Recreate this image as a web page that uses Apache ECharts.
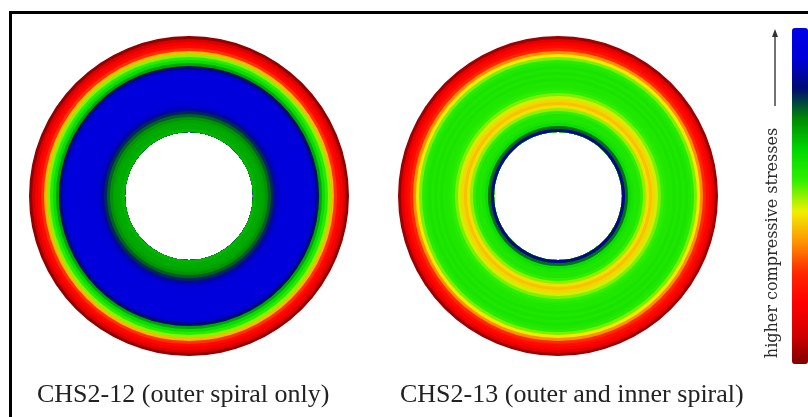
<!DOCTYPE html>
<html><head><meta charset="utf-8">
<script src="https://cdn.jsdelivr.net/npm/echarts@6/dist/echarts.min.js"></script>
<style>html,body{margin:0;padding:0;background:#fff}#c{width:808px;height:417px}</style>
</head><body><div id="c"></div>
<script>
// Specimen captions
const specimens = ['CHS2-12 (outer spiral only)', 'CHS2-13 (outer and inner spiral)'];
// Outer edge of each contour ring, in % of the section's outer radius (outermost first)
const ringRadius = [100, 98.1, 96.3, 94.4, 92.5, 90.6, 88.8, 86.9, 85.0, 83.1, 81.3, 79.4, 77.5, 75.6, 73.8, 71.9,
                    70.0, 68.1, 66.3, 64.4, 62.5, 60.6, 58.8, 56.9, 55.0, 53.1, 51.3, 49.4, 47.5, 45.6, 43.8, 41.9];
// Inner (hollow) radius, in % of outer radius
const holeRadius = 40;
// Relative compressive stress level (0 = lowest, 100 = highest) per ring
const stressCHS2_12 = [2, 10, 17, 20, 28, 40, 50, 56, 62, 70, 82, 90, 93, 93, 93, 93,
                       93, 93, 93, 93, 93, 92, 91, 90, 86, 80, 76, 72, 70, 69, 69, 68];
const stressCHS2_13 = [3, 12, 18, 21, 27, 36, 45, 51, 56, 58, 59, 58, 59, 58, 59, 58,
                       58, 57, 55, 51, 47, 43, 41, 44, 50, 55, 58, 58, 59, 62, 75, 84];
const stressMin = 0, stressMax = 100;
const colorbarLabel = 'higher compressive stresses';
// Contour colour scale, lowest to highest stress
const stressColors = ['#800000', '#d40000', '#ff0000', '#ff2800', '#ff9400', '#f0f000',
                      '#30f000', '#00d800', '#008c00', '#000c70', '#0000d8', '#0000e8'];

const chart = echarts.init(document.getElementById('c'), null, {renderer: 'canvas'});
const outerR = 160;
const centers = [[189, 196], [558, 196]];
const profiles = [stressCHS2_12, stressCHS2_13];

const series = [];
profiles.forEach((prof, s) => {
  ringRadius.forEach((rr, i) => {
    series.push({
      type: 'pie',
      center: centers[s],
      radius: [holeRadius / 100 * outerR, rr / 100 * outerR],
      silent: true,
      animation: false,
      label: {show: false},
      labelLine: {show: false},
      emphasis: {disabled: true},
      itemStyle: {borderWidth: 0},
      data: [{value: prof[i], name: specimens[s] + ' r' + rr}]
    });
  });
});

chart.setOption({
  backgroundColor: '#ffffff',
  animation: false,
  visualMap: {
    type: 'continuous',
    min: stressMin, max: stressMax,
    left: 777, top: 13,
    itemWidth: 16, itemHeight: 336,
    calculable: false,
    hoverLink: false,
    inRange: {color: stressColors},
    seriesIndex: series.map((_, i) => i)
  },
  series: series,
  graphic: [
    {type: 'rect', shape: {x: 10.5, y: 12.5, width: 1000, height: 1000},
     style: {fill: 'none', stroke: '#000', lineWidth: 3}, z: 100},
    {type: 'text', x: 37, y: 395,
     style: {text: specimens[0], font: '26px "Liberation Serif"', fill: '#222', textAlign: 'left', textVerticalAlign: 'middle'}},
    {type: 'text', x: 400, y: 395,
     style: {text: specimens[1], font: '26px "Liberation Serif"', fill: '#222', textAlign: 'left', textVerticalAlign: 'middle'}},
    {type: 'text', x: 773, y: 243, rotation: Math.PI / 2,
     style: {text: colorbarLabel, font: '16px "DejaVu Serif"', fill: '#2a2a2a', textAlign: 'center', textVerticalAlign: 'middle'}},
    {type: 'line', shape: {x1: 775, y1: 106, x2: 775, y2: 34},
     style: {stroke: '#444', lineWidth: 1.5}},
    {type: 'polygon', shape: {points: [[772, 37], [778, 37], [775, 29]]},
     style: {fill: '#333'}}
  ]
});
</script></body></html>
